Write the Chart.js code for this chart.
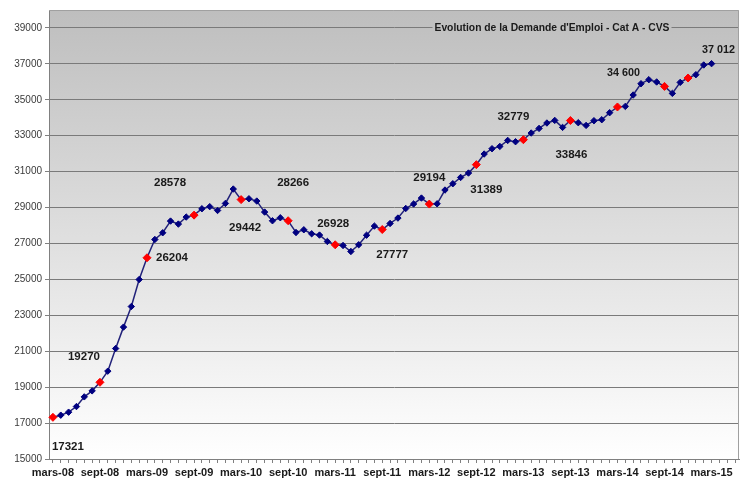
<!DOCTYPE html>
<html>
<head>
<meta charset="utf-8">
<script src="https://cdn.jsdelivr.net/npm/chart.js@4/dist/chart.umd.min.js"></script>
<style>
  html, body { margin: 0; padding: 0; background: #fff; }
  #wrap { width: 744px; height: 480px; position: relative; }
</style>
</head>
<body>
<div id="wrap"><canvas id="graphe"></canvas></div>
<script>
// Données (mensuel, mars-08 -> mars-15)
const moisCourts = ['janv', 'févr', 'mars', 'avr', 'mai', 'juin', 'juil', 'août', 'sept', 'oct', 'nov', 'déc'];
const nbCategories = 88; // l'axe va jusqu'à juin-15

const demandeEmploi = [
    17321, 17440, 17607, 17920, 18460, 18794, 19270, 19891, 21151, 22343, 23490, 24995,
    26204, 27223, 27596, 28248, 28081, 28471, 28578, 28933, 29050, 28838, 29229, 30031,
    29442, 29490, 29362, 28749, 28265, 28432, 28266, 27613, 27763, 27540, 27468, 27112,
    26928, 26889, 26554, 26930, 27460, 27969, 27777, 28114, 28415, 28950, 29200, 29529,
    29194, 29210, 29975, 30326, 30677, 30922, 31389, 31981, 32276, 32404, 32738, 32666,
    32779, 33150, 33407, 33708, 33852, 33463, 33846, 33724, 33574, 33836, 33891, 34281,
    34600, 34633, 35267, 35897, 36120, 35992, 35747, 35357, 35969, 36214, 36398, 36939,
    37012
];

// points en rouge
const pointsRouges = [0, 6, 12, 18, 24, 30, 36, 42, 48, 54, 60, 66, 72, 78, 81];

// étiquettes de valeurs
const etiquetteIndex = [0, 6, 12, 18, 24, 30, 36, 42, 48, 54, 60, 66, 72, 84];
const etiquetteTexte = ['17321', '19270', '26204', '28578', '29442', '28266', '26928',
    '27777', '29194', '31389', '32779', '33846', '34 600', '37 012'];

const graduationsY = [15000, 17000, 19000, 21000, 23000, 25000, 27000, 29000, 31000, 33000, 35000, 37000, 39000];

const titre = "Evolution de la Demande d'Emploi - Cat A - CVS";

// catégories mmm-aa
const categories = [];
for (let i = 0; i < nbCategories; i++) {
    const m = (2 + i) % 12;
    const a = 8 + Math.floor((2 + i) / 12);
    categories.push(moisCourts[m] + '-' + String(a).padStart(2, '0'));
}

let degrade = null;

// fond dégradé gris -> blanc dans la zone de tracé
const fondPlugin = {
    id: 'fond',
    beforeDraw(chart) {
        const { ctx, chartArea: z } = chart;
        degrade = ctx.createLinearGradient(0, z.top, 0, z.bottom);
        degrade.addColorStop(0, '#bebebe');
        degrade.addColorStop(1, '#ffffff');
        ctx.save();
        ctx.fillStyle = degrade;
        ctx.fillRect(z.left, z.top, z.right - z.left, z.bottom - z.top);
        ctx.restore();
    },
    afterDraw(chart) {
        const { ctx, chartArea: z } = chart;
        ctx.save();
        ctx.strokeStyle = '#a0a0a0';
        ctx.lineWidth = 1;
        ctx.beginPath();
        ctx.moveTo(z.left, z.top + 0.5);
        ctx.lineTo(z.right - 0.5, z.top + 0.5);
        ctx.lineTo(z.right - 0.5, z.bottom);
        ctx.stroke();
        ctx.restore();
    }
};

// décalages des étiquettes par rapport aux points (px)
const decalages = [[15, 30], [-16, -25], [25, 0], [-24, -32], [4, 28], [5, -38], [-2, -21],
    [10, 25], [0, -26], [10, 25], [-10, -23], [1, 34], [6, -34], [7, -14]];

const etiquettesPlugin = {
    id: 'etiquettes',
    afterDatasetsDraw(chart) {
        const { ctx, chartArea: z } = chart;
        const meta = chart.getDatasetMeta(0);
        ctx.save();
        ctx.font = 'bold 11.5px "Liberation Sans", Arial, sans-serif';
        ctx.fillStyle = '#1a1a1a';
        ctx.textAlign = 'center';
        ctx.textBaseline = 'middle';
        etiquetteIndex.forEach((idx, k) => {
            const p = meta.data[idx];
            ctx.fillText(etiquetteTexte[k], p.x + decalages[k][0], p.y + decalages[k][1], 33);
        });

        // titre dans le graphique, sur la ligne de 39000
        ctx.font = 'bold 11px "Liberation Sans", Arial, sans-serif';
        const tx = z.right - 187;
        const ty = chart.scales.y.getPixelForValue(39000);
        const largeur = Math.min(ctx.measureText(titre).width, 235);
        ctx.fillStyle = degrade;
        ctx.fillRect(tx - largeur / 2 - 2, ty - 6, largeur + 4, 12);
        ctx.fillStyle = '#1a1a1a';
        ctx.fillText(titre, tx, ty, 235);
        ctx.restore();
    }
};

new Chart(document.getElementById('graphe'), {
    type: 'line',
    data: {
        labels: categories,
        datasets: [{
            data: demandeEmploi,
            borderColor: '#22227a',
            borderWidth: 1.5,
            tension: 0,
            pointStyle: 'rectRot',
            pointRadius: ctx => pointsRouges.includes(ctx.dataIndex) ? 4 : 3.2,
            pointBackgroundColor: ctx => pointsRouges.includes(ctx.dataIndex) ? '#ff0000' : '#000080',
            pointBorderColor: ctx => pointsRouges.includes(ctx.dataIndex) ? '#ff0000' : '#000080',
            pointBorderWidth: 1
        }]
    },
    options: {
        responsive: true,
        maintainAspectRatio: false,
        animation: false,
        layout: { padding: { top: 10, right: 5, left: 0, bottom: 0 } },
        plugins: {
            legend: { display: false },
            tooltip: { enabled: false }
        },
        scales: {
            x: {
                offset: true,
                grid: {
                    drawOnChartArea: false,
                    tickLength: 4,
                    tickColor: '#808080'
                },
                border: { color: '#808080' },
                ticks: {
                    autoSkip: false,
                    maxRotation: 0,
                    minRotation: 0,
                    padding: 3,
                    color: '#1a1a1a',
                    font: { family: '"Liberation Sans", Arial, sans-serif', size: 11, weight: 'bold' },
                    callback: (val, i) => i % 6 === 0 ? categories[i] : ''
                },
                afterFit: s => { s.height = 21; }
            },
            y: {
                min: 15000,
                max: 40000,
                afterBuildTicks: s => { s.ticks = graduationsY.map(v => ({ value: v })); },
                grid: {
                    color: '#7a7a7a',
                    lineWidth: 1,
                    borderDash: [1, 1],
                    tickLength: 4,
                    tickColor: '#808080',
                    tickBorderDash: []
                },
                border: { color: '#808080' },
                ticks: {
                    padding: 3,
                    color: '#3a3a3a',
                    font: { family: '"Liberation Sans", Arial, sans-serif', size: 10 },
                    callback: v => String(v)
                },
                afterFit: s => { s.width = 49; }
            }
        }
    },
    plugins: [fondPlugin, etiquettesPlugin]
});
</script>
</body>
</html>
